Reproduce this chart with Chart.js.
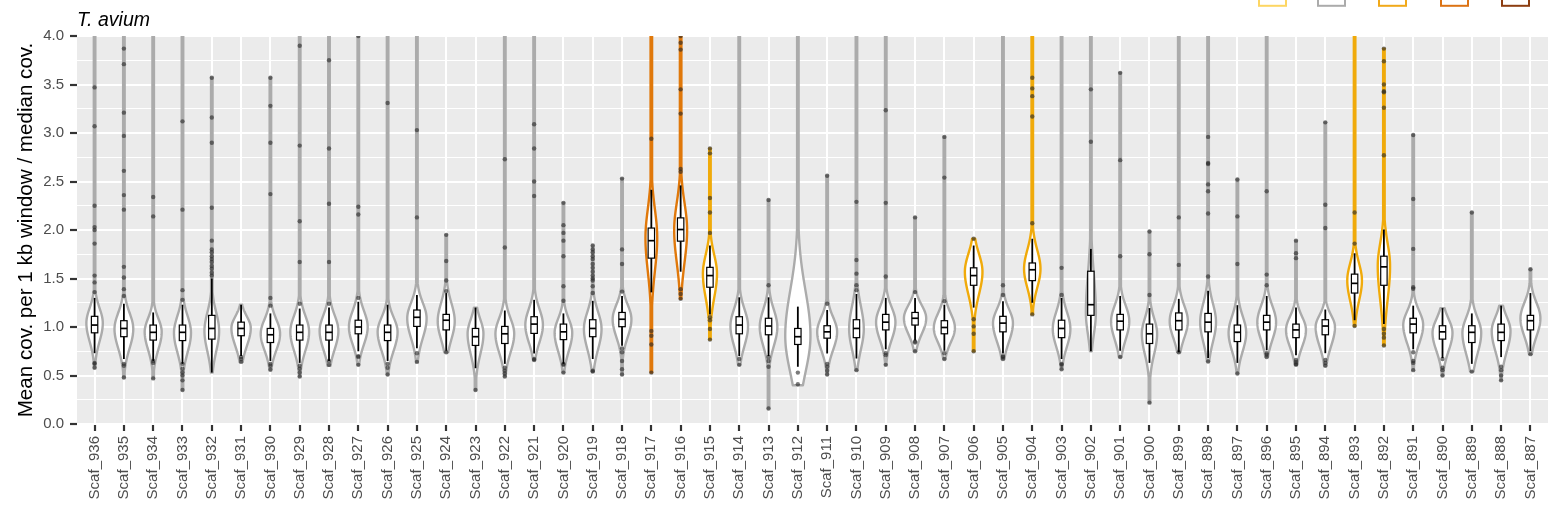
<!DOCTYPE html>
<html><head><meta charset="utf-8">
<script src="https://cdn.jsdelivr.net/npm/chart.js@4"></script>
<style>html,body{margin:0;padding:0;background:#fff;}#c{display:block;}</style>
</head><body>
<canvas id="c" width="1554" height="530" style="width:1554px;height:530px"></canvas>
<script>
const categories = ['Scaf_936','Scaf_935','Scaf_934','Scaf_933','Scaf_932','Scaf_931','Scaf_930','Scaf_929','Scaf_928','Scaf_927',
  'Scaf_926','Scaf_925','Scaf_924','Scaf_923','Scaf_922','Scaf_921','Scaf_920','Scaf_919','Scaf_918','Scaf_917',
  'Scaf_916','Scaf_915','Scaf_914','Scaf_913','Scaf_912','Scaf_911','Scaf_910','Scaf_909','Scaf_908','Scaf_907',
  'Scaf_906','Scaf_905','Scaf_904','Scaf_903','Scaf_902','Scaf_901','Scaf_900','Scaf_899','Scaf_898','Scaf_897',
  'Scaf_896','Scaf_895','Scaf_894','Scaf_893','Scaf_892','Scaf_891','Scaf_890','Scaf_889','Scaf_888','Scaf_887'];
// 0 = grey, 1 = yellow, 2 = orange
const group = [0,0,0,0,0,0,0,0,0,0, 0,0,0,0,0,0,0,0,0,2, 2,1,0,0,0,0,0,0,0,0, 1,0,1,0,0,0,0,0,0,0, 0,0,0,1,1,0,0,0,0,0];
const dataMin = [0.58,0.48,0.47,0.35,0.53,0.64,0.56,0.49,0.60,0.61, 0.51,0.64,0.74,0.35,0.49,0.66,0.53,0.54,0.51,0.53,
  1.29,0.87,0.61,0.16,0.40,0.51,0.555,0.61,0.75,0.67, 0.75,0.67,1.13,0.565,0.75,0.69,0.22,0.74,0.645,0.52,
  0.69,0.61,0.60,1.01,0.81,0.555,0.50,0.54,0.45,0.72];
const dataMax = [4.3,4.3,4.3,4.3,3.57,1.23,3.57,4.3,4.3,4.3, 4.3,4.3,1.95,1.20,4.3,4.3,2.28,1.84,2.53,4.3,
  4.3,2.84,4.3,2.31,4.3,2.56,4.3,4.3,2.13,2.96, 1.91,4.3,4.3,4.3,4.3,3.62,1.985,4.3,4.3,2.52,
  4.3,1.89,3.11,4.3,3.87,2.98,1.195,2.18,1.22,1.595];
// density body: lower end, mode, upper end, max half width (in category units)
const densLo = [0.70,0.62,0.62,0.58,0.58,0.66,0.62,0.60,0.62,0.68, 0.60,0.72,0.72,0.55,0.58,0.70,0.60,0.60,0.75,1.30,
  1.40,1.10,0.65,0.65,0.23,0.62,0.60,0.72,0.80,0.72, 1.15,0.70,1.25,0.65,0.75,0.72,0.55,0.75,0.68,0.60,
  0.72,0.65,0.65,1.10,1.00,0.68,0.60,0.55,0.58,0.75];
const densMode = [1.04,0.98,0.95,0.94,0.96,0.99,0.93,0.95,0.96,1.00, 0.95,1.09,1.06,0.93,0.93,1.02,0.94,0.98,1.08,1.92,
  2.00,1.55,1.01,1.00,0.91,0.95,0.98,1.05,1.09,0.99, 1.57,1.04,1.60,0.98,1.15,1.06,0.93,1.06,1.05,0.94,
  1.05,0.97,1.00,1.48,1.63,1.02,0.94,0.94,0.96,1.09];
const densHi = [1.32,1.28,1.20,1.25,1.30,1.20,1.20,1.25,1.25,1.30, 1.22,1.38,1.40,1.20,1.22,1.32,1.20,1.30,1.35,2.45,
  2.50,1.90,1.32,1.32,1.75,1.22,1.40,1.33,1.33,1.26, 1.90,1.30,1.95,1.30,1.85,1.35,1.22,1.35,1.40,1.25,
  1.35,1.22,1.22,1.80,2.05,1.28,1.20,1.22,1.22,1.38];
const densWidth = [0.28,0.32,0.29,0.29,0.25,0.33,0.33,0.32,0.32,0.32, 0.34,0.33,0.29,0.27,0.32,0.30,0.30,0.30,0.32,0.20,
  0.22,0.24,0.30,0.30,0.43,0.34,0.25,0.33,0.38,0.36, 0.30,0.34,0.28,0.30,0.17,0.31,0.26,0.31,0.27,0.30,
  0.32,0.34,0.33,0.25,0.21,0.34,0.34,0.32,0.32,0.34];
const whiskerLo = [0.73,0.67,0.65,0.62,0.53,0.70,0.65,0.63,0.65,0.75, 0.65,0.78,0.755,0.575,0.62,0.727,0.62,0.67,0.806,1.357,
  1.57,1.13,0.70,0.70,0.59,0.727,0.675,0.77,0.86,0.755, 1.20,0.727,1.25,0.67,0.75,0.755,0.63,0.74,0.68,0.63,
  0.76,0.71,0.73,1.07,1.03,0.77,0.68,0.62,0.69,0.75];
const q1 = [0.94,0.90,0.865,0.86,0.875,0.91,0.84,0.865,0.865,0.93, 0.86,1.006,0.97,0.81,0.83,0.934,0.87,0.90,1.003,1.71,
  1.885,1.41,0.93,0.92,0.82,0.885,0.89,0.97,1.02,0.93, 1.43,0.95,1.478,0.89,1.12,0.97,0.83,0.97,0.95,0.85,
  0.97,0.89,0.92,1.35,1.43,0.94,0.875,0.84,0.86,0.97];
const median = [1.02,0.985,0.945,0.945,0.985,0.985,0.92,0.945,0.945,1.0, 0.945,1.10,1.07,0.90,0.93,1.03,0.95,0.985,1.08,1.89,
  2.005,1.53,1.02,1.01,0.90,0.95,0.985,1.05,1.09,0.995, 1.53,1.04,1.59,0.985,1.23,1.06,0.93,1.065,1.05,0.945,
  1.05,0.97,1.01,1.45,1.62,1.03,0.95,0.945,0.945,1.065];
const q3 = [1.11,1.065,1.02,1.02,1.12,1.05,0.985,1.02,1.02,1.07, 1.02,1.175,1.13,0.985,1.006,1.106,1.03,1.075,1.15,2.02,
  2.125,1.615,1.106,1.09,0.985,1.013,1.075,1.13,1.15,1.065, 1.61,1.11,1.66,1.07,1.575,1.13,1.03,1.145,1.14,1.02,
  1.12,1.03,1.075,1.545,1.73,1.09,1.013,1.013,1.03,1.12];
const whiskerHi = [1.30,1.24,1.15,1.23,1.50,1.23,1.14,1.19,1.20,1.26, 1.23,1.33,1.35,1.20,1.17,1.28,1.14,1.27,1.32,2.415,
  2.46,1.84,1.306,1.306,1.21,1.175,1.34,1.30,1.30,1.23, 1.84,1.265,1.91,1.30,1.805,1.32,1.195,1.29,1.375,1.225,
  1.32,1.20,1.18,1.76,2.005,1.22,1.195,1.14,1.22,1.35];
const outliers = [
  [3.47,3.07,2.25,2.03,2.0,1.86,1.53,1.46,1.36,0.63,0.62,0.58],
  [3.87,3.71,3.21,2.97,2.61,2.36,2.21,1.62,1.51,1.39,1.32,0.62,0.60,0.48],
  [2.34,2.14,0.65,0.63,0.47],
  [3.12,2.21,1.38,1.28,0.62,0.57,0.53,0.50,0.45,0.35],
  [3.57,3.16,2.90,2.23,1.89,1.80,1.77,1.73,1.70,1.67,1.63,1.60,1.56,1.53],
  [0.69,0.67,0.64],
  [3.57,3.28,2.90,2.37,1.30,1.22,0.62,0.60,0.56],
  [3.90,2.87,2.09,1.67,1.24,0.60,0.57,0.53,0.49],
  [3.75,2.84,2.27,1.67,1.24,0.65,0.61],
  [4.0,2.24,2.16,1.30,0.70,0.69,0.61],
  [3.31,0.62,0.58,0.51],
  [3.03,2.13,0.73,0.64],
  [1.95,1.68,1.48,1.37,0.74],
  [0.35],
  [2.73,1.82,0.58,0.55,0.52,0.49],
  [3.09,2.84,2.50,2.35,0.67,0.66],
  [2.28,2.05,1.97,1.89,1.73,1.42,1.27,0.62,0.61,0.53],
  [1.84,1.80,1.77,1.73,1.70,1.65,1.61,1.57,1.53,1.50,1.48,1.42,1.35,0.55,0.54],
  [2.53,1.80,1.65,1.365,0.78,0.74,0.65,0.565,0.51],
  [2.94,0.96,0.91,0.82,0.53],
  [4.0,3.93,3.86,3.45,3.20,2.63,2.60,1.39,1.34,1.29],
  [2.84,2.79,2.33,2.18,1.97,1.10,1.07,0.98,0.87],
  [0.67,0.61],
  [2.31,1.43,0.69,0.65,0.59,0.16],
  [0.53,0.41],
  [2.56,1.24,0.62,0.59,0.55,0.51],
  [2.29,1.69,1.55,1.43,1.38,0.555],
  [3.235,2.28,1.52,0.73,0.71,0.61],
  [2.13,1.36,0.85,0.84,0.75],
  [2.96,2.54,1.265,0.73,0.67],
  [1.91,1.08,1.006,0.93,0.75],
  [1.43,1.33,0.70,0.69,0.67],
  [3.57,3.46,3.38,3.17,2.07,1.13],
  [1.61,1.33,0.62,0.61,0.565],
  [3.45,2.91],
  [3.62,2.72,1.73,0.69],
  [1.985,1.75,1.33,0.22],
  [2.13,1.64,0.74],
  [2.96,2.69,2.68,2.47,2.40,2.17,1.52,0.645],
  [2.52,2.14,1.65,0.52],
  [2.40,1.54,1.43,0.73,0.715,0.69],
  [1.89,1.76,1.71,0.66,0.64,0.62,0.61],
  [3.11,2.26,2.02,0.66,0.63,0.60],
  [2.18,1.86,1.01],
  [3.87,3.74,3.50,3.43,3.42,3.26,2.77,0.98,0.93,0.89,0.81],
  [2.98,2.32,1.805,1.41,1.395,0.74,0.65,0.63,0.555],
  [0.67,0.58,0.555,0.50],
  [2.18,0.54],
  [0.59,0.555,0.50,0.45],
  [1.595,0.72]
];
const yTicks = [0,0.25,0.5,0.75,1,1.25,1.5,1.75,2,2.25,2.5,2.75,3,3.25,3.5,3.75,4];
const groupColors = ['#ABABAB', '#F0AA0A', '#E0780A'];
const legendColors = ['#FDD663', '#ABABAB', '#F1A91A', '#DC7314', '#8C3D10'];
const plotTitle = 'T. avium';
const yTitle = 'Mean cov. per 1 kb window / median cov.';

const FONT = '"Liberation Sans", Arial, Helvetica, sans-serif';
const isMajor = v => Math.abs(v * 2 - Math.round(v * 2)) < 1e-6;

const violinPlugin = {
  id: 'violins',
  beforeDraw(chart) {
    const {ctx, chartArea: a} = chart;
    ctx.save();
    ctx.fillStyle = '#EBEBEB';
    ctx.fillRect(a.left, a.top, a.right - a.left, a.bottom - a.top);
    ctx.restore();
  },
  beforeDatasetsDraw(chart) {
    const {ctx, chartArea: a, scales: {x, y}} = chart;
    const unit = x.getPixelForValue(1) - x.getPixelForValue(0);
    ctx.save();
    ctx.beginPath();
    ctx.rect(a.left, a.top, a.right - a.left, a.bottom - a.top);
    ctx.clip();
    categories.forEach((c, i) => {
      const cx = x.getPixelForValue(i);
      const m = densMode[i];
      const sLo = (m - densLo[i]) / 1.8, sHi = (densHi[i] - m) / 1.8;
      const W = densWidth[i] * unit;
      const pTop = y.getPixelForValue(dataMax[i]), pBot = y.getPixelForValue(dataMin[i]);
      const n = Math.max(2, Math.ceil(pBot - pTop));
      const pts = [];
      for (let k = 0; k <= n; k++) {
        const py = pTop + (pBot - pTop) * k / n;
        const v = y.getValueForPixel(py);
        const s = v >= m ? sHi : sLo;
        const z = (v - m) / s;
        pts.push([py, Math.max(0.75, W * Math.exp(-0.5 * z * z))]);
      }
      ctx.beginPath();
      pts.forEach(([py, w], k) => { if (k) ctx.lineTo(cx + w, py); else ctx.moveTo(cx + w, py); });
      for (let k = pts.length - 1; k >= 0; k--) ctx.lineTo(cx - pts[k][1], pts[k][0]);
      ctx.closePath();
      ctx.fillStyle = '#FFFFFF';
      ctx.fill();
      ctx.strokeStyle = groupColors[group[i]];
      ctx.lineWidth = 2.4;
      ctx.lineJoin = 'round';
      ctx.stroke();
    });
    ctx.restore();
  },
  afterDatasetsDraw(chart) {
    const {ctx, chartArea: a, scales: {x, y}} = chart;
    ctx.save();
    ctx.beginPath();
    ctx.rect(a.left, a.top, a.right - a.left, a.bottom - a.top);
    ctx.clip();
    ctx.strokeStyle = '#000';
    categories.forEach((c, i) => {
      const cx = x.getPixelForValue(i);
      ctx.lineWidth = 1.8;
      ctx.beginPath();
      ctx.moveTo(cx, y.getPixelForValue(whiskerLo[i]));
      ctx.lineTo(cx, y.getPixelForValue(whiskerHi[i]));
      ctx.stroke();
      const t = y.getPixelForValue(q3[i]), b = y.getPixelForValue(q1[i]);
      ctx.fillStyle = '#fff';
      ctx.fillRect(cx - 3.2, t, 6.4, b - t);
      ctx.lineWidth = 1.2;
      ctx.strokeRect(cx - 3.2, t, 6.4, b - t);
      ctx.lineWidth = 1.7;
      const pm = y.getPixelForValue(median[i]);
      ctx.beginPath();
      ctx.moveTo(cx - 3.2, pm);
      ctx.lineTo(cx + 3.2, pm);
      ctx.stroke();
    });
    ctx.restore();
  },
  afterDraw(chart) {
    const {ctx, chartArea: a} = chart;
    ctx.save();
    ctx.fillStyle = '#000';
    ctx.font = 'italic 19.5px ' + FONT;
    ctx.textBaseline = 'alphabetic';
    ctx.textAlign = 'left';
    ctx.fillText(plotTitle, a.left, 26);
    const lx = [1258, 1317, 1378, 1440, 1501];
    legendColors.forEach((col, k) => {
      ctx.fillStyle = '#fff';
      ctx.fillRect(lx[k] + 1, -10, 27, 15.8);
      ctx.strokeStyle = col;
      ctx.lineWidth = 2;
      ctx.strokeRect(lx[k] + 1, -10, 27, 15.8);
    });
    ctx.restore();
  }
};

const points = outliers.flatMap((arr, i) => arr.map(v => ({x: i, y: v})));

new Chart(document.getElementById('c'), {
  type: 'scatter',
  data: {
    datasets: [{
      data: points,
      pointRadius: 2.2,
      pointHoverRadius: 2.2,
      pointBackgroundColor: 'rgba(40,40,40,0.62)',
      pointBorderWidth: 0,
      showLine: false
    }]
  },
  options: {
    responsive: false,
    animation: false,
    events: [],
    devicePixelRatio: 1,
    layout: { padding: { top: 36, right: 6, left: 0, bottom: 0 } },
    plugins: { legend: { display: false }, tooltip: { enabled: false }, title: { display: false } },
    scales: {
      x: {
        type: 'linear', min: -0.6, max: 49.6,
        afterBuildTicks: s => { s.ticks = categories.map((_, i) => ({ value: i })); },
        afterFit: s => { s.height = 106; },
        ticks: {
          autoSkip: false, minRotation: 90, maxRotation: 90, padding: 5,
          color: '#4D4D4D', font: { size: 15, family: FONT },
          callback: (v, idx) => categories[idx]
        },
        grid: { color: '#FFFFFF', lineWidth: 2, drawTicks: true, tickLength: 7, tickColor: '#333333', tickWidth: 2.2 },
        border: { display: false }
      },
      y: {
        type: 'linear', min: 0, max: 4,
        afterBuildTicks: s => { s.ticks = yTicks.map(v => ({ value: v })); },
        afterFit: s => { s.width = 77; },
        ticks: {
          padding: 6, color: '#4D4D4D', font: { size: 15, family: FONT },
          callback: v => isMajor(v) ? v.toFixed(1) : ''
        },
        grid: {
          color: '#FFFFFF',
          lineWidth: c => isMajor(c.tick.value) ? 2 : 1.1,
          drawTicks: true, tickLength: 7,
          tickColor: c => isMajor(c.tick.value) ? '#333333' : 'rgba(0,0,0,0)',
          tickWidth: 2.2
        },
        border: { display: false },
        title: { display: true, text: yTitle, color: '#000', font: { size: 20.6, family: FONT }, padding: { top: 14, bottom: 0 } }
      }
    }
  },
  plugins: [violinPlugin]
});
</script>
</body></html>
